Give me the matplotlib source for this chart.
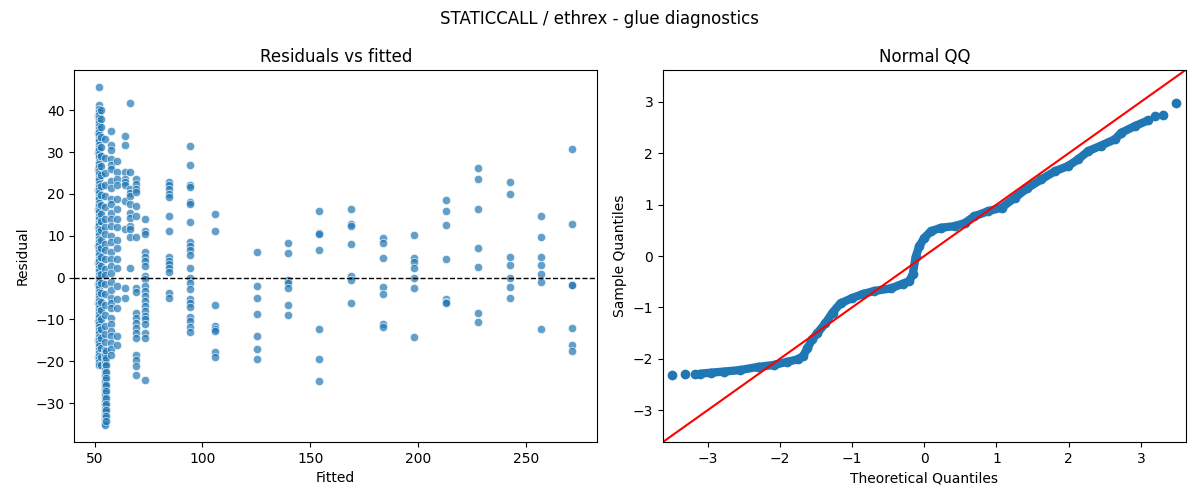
import matplotlib
matplotlib.use('Agg')
import matplotlib.pyplot as plt
import numpy as np

###############################################
### Data: residuals vs fitted

fitted_levels = [51.6, 52.2, 52.8, 54.8, 55.4, 57.8, 60.2, 64.2, 66.4, 69.2,
                 73.4, 84.6, 94.0, 105.6, 125.2, 139.8, 154.2, 169.0, 183.7,
                 198.1, 213.1, 227.8, 242.8, 256.9, 271.6]

res_51 = [38.5, 34.5, 30.0, 26.0, 21.0, 16.5, 12.0, 7.5, 3.5, -1.5, -6.0,
          -10.5, -15.0, -19.0]
res_52 = [45.5, 41.2, 40.3, 39.6, 38.8, 38.2, 37.5, 37.0, 36.3, 35.4, 34.8,
          34.1, 33.2, 32.6, 31.7, 31.0, 30.4, 29.5, 28.8, 27.7, 27.1, 26.3,
          25.4, 24.8, 23.9, 23.3, 22.4, 21.6, 21.0, 20.1, 19.2, 18.7, 17.9,
          17.0, 16.2, 15.6, 14.8, 14.0, 13.1, 12.5, 11.6, 10.9, 10.1, 9.2,
          8.6, 7.7, 6.9, 6.2, 5.4, 4.5, 3.9, 3.0, 2.2, 1.5, 0.6, -0.2, -1.0,
          -1.8, -2.5, -3.4, -4.1, -4.9, -5.6, -6.4, -7.3, -8.0, -8.7, -9.5,
          -10.4, -11.0, -11.9, -12.6, -13.3, -14.2, -14.9, -15.7, -16.4,
          -17.2, -18.1, -18.8, -19.5, -20.3, -21.0]
res_53 = [40.0, 37.8, 35.9, 33.6, 31.2, 29.0, 26.7, 24.4, 21.9, 19.8, 17.4,
          15.2, 13.5, 11.3, 9.0, 7.1, 4.9, 2.8, 0.9, -1.4, -3.7, -5.9, -7.8,
          -10.0, -12.3, -14.5, -16.9, -19.0, -20.8]
res_55 = [33.2, 28.5, 25.0, 22.0, 19.5, 16.8, 14.0, 12.0, 10.5, 8.0, 6.5, 4.5,
          2.0, 0.5, -1.5, -4.0, -6.5, -9.0, -11.5, -13.5, -15.5, -17.2, -18.0,
          -18.8, -19.7, -20.5, -21.2, -22.1, -22.8, -23.6, -24.5, -25.2,
          -26.0, -26.8, -27.5, -28.3, -29.0, -29.8, -30.5, -31.3, -32.0,
          -32.8, -33.5, -34.2, -34.8, -35.2]
res_55b = [-17.6, -19.2, -21.0, -22.5, -24.0, -25.6, -27.1, -28.7, -30.2,
           -31.7, -33.0, -34.4]
res_58 = [35.0, 31.6, 30.4, 28.3, 26.8, 25.9, 23.0, 21.5, 18.8, 17.5, 15.5,
          14.0, 12.4, 10.0, 8.5, 6.0, 4.5, 2.8, 1.2, -1.1, -3.0, -4.8, -6.0,
          -7.2, -9.6, -11.0, -12.8, -14.0, -15.6, -17.0, -18.4]
res_60 = [27.8, 25.2, 23.5, 22.0, 18.8, 16.5, 14.0, 12.0, 9.0, 7.0, 4.5, 2.2,
          -1.9, -5.2, -7.2, -14.0, -16.0]
res_64 = [33.8, 31.6, 25.2, 23.6, 22.8, 22.0, 18.4, 11.6, -2.4, -4.8]
res_66 = [41.7, 25.2, 21.2, 20.3, 19.5, 17.6, 15.5, 14.2, 12.4, 11.6, 9.6, 2.2]
res_69 = [23.6, 22.4, 21.2, 20.4, 17.2, 14.8, 9.6, -2.4, -3.4, -8.4, -9.6,
          -10.8, -12.0, -13.2, -14.4, -18.4, -19.6, -21.2, -23.4]
res_73 = [14.0, 11.2, 10.4, 6.0, 4.8, 4.0, 2.8, 0.4, -0.4, -2.0, -3.2, -4.4,
          -5.6, -6.8, -8.0, -9.2, -10.0, -11.0, -13.2, -14.4, -24.4]
res_85 = [22.8, 22.0, 21.2, 20.0, 19.2, 14.6, 11.2, 4.9, 4.0, 3.2, 2.2, 1.3,
          -3.6, -4.8]
res_94 = [31.4, 26.9, 22.1, 21.6, 18.0, 17.6, 13.2, 8.5, 7.5, 6.5, 5.3, 2.2,
          0.0, -1.2, -2.8, -5.2, -6.2, -7.1, -9.5, -10.5, -11.8, -13.1]
res_106 = [15.1, 11.1, -6.6, -11.6, -12.2, -12.8, -17.7, -19.1]
res_125 = [6.0, -1.9, -5.0, -8.6, -13.9, -17.0, -19.4]
res_140 = [8.2, 5.8, -0.6, -1.4, -2.6, -6.5, -8.9]
res_154 = [15.8, 10.6, 10.4, 6.7, -12.2, -19.4, -24.7]
res_169 = [16.3, 12.7, 12.2, 7.9, 0.4, -0.6, -6.2]
res_184 = [9.4, 8.2, 4.6, -2.2, -3.9, -11.2, -11.7]
res_198 = [10.1, 4.6, 3.7, 2.4, 0.0, -2.6, -14.1]
res_213 = [18.5, 16.0, 12.5, 4.5, -5.2, -5.8, -6.2]
res_228 = [26.1, 23.5, 16.5, 7.0, 2.6, -8.4, -10.6]
res_243 = [22.8, 19.9, 4.9, 3.1, 0.0, -2.2, -5.0]
res_257 = [14.6, 9.6, 5.0, 2.9, 0.8, -1.0, -12.4]
res_272 = [30.7, 12.9, -1.7, -1.7, -12.0, -16.0, -17.5]

residual_groups = [res_51, res_52, res_53, res_55, res_55b, res_58, res_60,
                   res_64, res_66, res_69, res_73, res_85, res_94, res_106,
                   res_125, res_140, res_154, res_169, res_184, res_198,
                   res_213, res_228, res_243, res_257, res_272]

###############################################
### Data: normal QQ

qq_theo_tail_lo = [-3.49, -3.31, -3.18]
qq_samp_tail_lo = [-2.31, -2.30, -2.30]

qq_theo = [-3.10, -2.95, -2.78, -2.55, -2.31, -2.08, -1.90, -1.75, -1.68,
           -1.62, -1.55, -1.48, -1.37, -1.27, -1.16, -1.00, -0.85, -0.69,
           -0.46, -0.30, -0.21, -0.16, -0.12, -0.07, 0.00, 0.09, 0.23, 0.42,
           0.56, 0.69, 0.88, 1.07, 1.25, 1.43, 1.62, 1.81, 1.99, 2.13, 2.27,
           2.45, 2.64, 2.73, 2.92, 3.10]
qq_samp = [-2.29, -2.27, -2.25, -2.22, -2.16, -2.12, -2.06, -2.01, -1.95,
           -1.80, -1.62, -1.50, -1.31, -1.10, -0.92, -0.82, -0.74, -0.68,
           -0.63, -0.54, -0.49, -0.36, -0.02, 0.19, 0.35, 0.48, 0.55, 0.58,
           0.64, 0.77, 0.87, 0.94, 1.13, 1.32, 1.49, 1.65, 1.75, 1.88, 2.04,
           2.15, 2.27, 2.40, 2.53, 2.64]

qq_theo_tail_hi = [3.19, 3.31, 3.49]
qq_samp_tail_hi = [2.72, 2.75, 2.98]

qq_lim = 3.62

###############################################
### Espacio de dibujo

fig, (ax1, ax2) = plt.subplots(1, 2, figsize=(12, 5), dpi=100)
plt.subplots_adjust(left=0.062, right=0.988, top=0.86, bottom=0.116, wspace=0.126)

fig.suptitle('STATICCALL / ethrex - glue diagnostics', fontsize=12, y=0.98)

# residuals vs fitted
xs = []
ys = []
for f, grp in zip(fitted_levels, residual_groups):
    xs.extend([f] * len(grp))
    ys.extend(grp)

ax1.scatter(xs, ys, s=36, color='#1f77b4', alpha=0.7, edgecolors='white', linewidths=0.6)
ax1.axhline(0, color='black', linestyle='--', linewidth=1)
ax1.set_title('Residuals vs fitted')
ax1.set_xlabel('Fitted')
ax1.set_ylabel('Residual')
ax1.set_xlim(40.6, 283)
ax1.set_ylim(-39.3, 49.6)

# normal QQ
ax2.plot(qq_theo, qq_samp, color='#1f77b4', linewidth=6, solid_capstyle='round',
         solid_joinstyle='round', marker='o', markersize=6)
ax2.plot(qq_theo_tail_lo, qq_samp_tail_lo, 'o', color='#1f77b4', markersize=6)
ax2.plot(qq_theo_tail_hi, qq_samp_tail_hi, 'o', color='#1f77b4', markersize=6)
ax2.plot([-qq_lim, qq_lim], [-qq_lim, qq_lim], color='red', linewidth=1.5)
ax2.set_xlim(-qq_lim, qq_lim)
ax2.set_ylim(-qq_lim, qq_lim)
ax2.set_title('Normal QQ')
ax2.set_xlabel('Theoretical Quantiles')
ax2.set_ylabel('Sample Quantiles')

###############################################
### Imprimir

plt.savefig('out.png', dpi=100)
